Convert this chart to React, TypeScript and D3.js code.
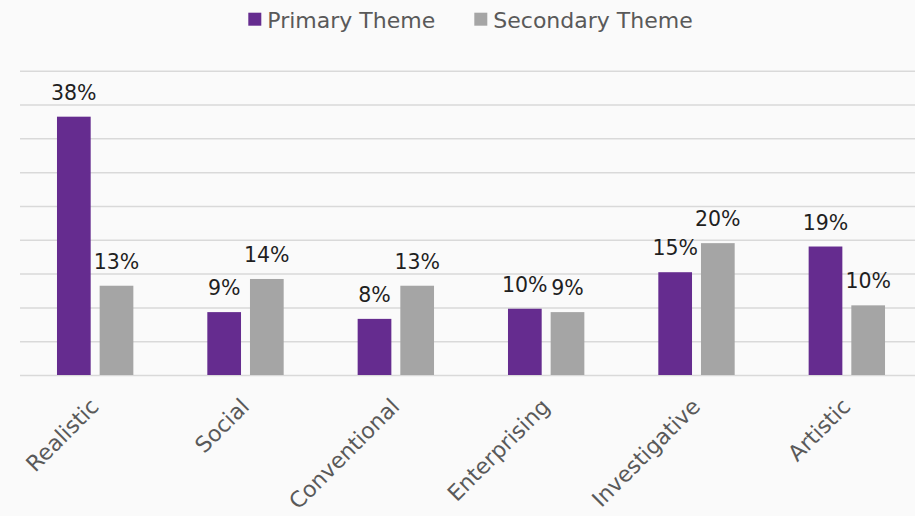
import * as d3 from "d3";
import { useEffect, useRef } from "react";

const categories = ["Realistic", "Social", "Conventional", "Enterprising", "Investigative", "Artistic"];
const seriesNames = ["Primary Theme", "Secondary Theme"];
const primaryValues = [38.2, 9.3, 8.3, 9.8, 15.2, 19.0];
const secondaryValues = [13.2, 14.2, 13.2, 9.3, 19.5, 10.3];
const gridTicks = [0, 5, 10, 15, 20, 25, 30, 35, 40, 45];

const colors = ["#652C8F", "#A5A5A5"];

export default function App() {
    const svgRef = useRef<SVGSVGElement>(null);
    const width = 915;
    const height = 516;
    const plotLeft = 20;
    const plotRight = 922;
    const plotTop = 70.7;
    const plotBottom = 375;
    const font = "'Century Gothic', 'DejaVu Sans', sans-serif";

    useEffect(() => {
        document.body.style.margin = "0";
        if (svgRef.current) {
            drawChart();
        }
    }, [svgRef]);

    const drawChart = () => {
        const svg = d3.select(svgRef.current);
        svg.selectAll("*").remove();

        svg.append("rect").attr("width", width).attr("height", height).attr("fill", "#FAFAFA");

        var scaleX = d3
            .scaleBand()
            .domain(categories)
            .range([plotLeft, plotRight])
            .paddingInner(0.492)
            .paddingOuter(0.246);
        var scaleInner = d3
            .scaleBand()
            .domain(seriesNames)
            .range([0, scaleX.bandwidth()])
            .paddingInner(0.21)
            .paddingOuter(0);
        var scaleY = d3.scaleLinear().domain([0, 45]).range([plotBottom, plotTop]);

        // horizontal grid lines
        svg.append("g")
            .attr("transform", "translate(" + plotLeft + ",0)")
            .attr("color", "#D9D9D9")
            .call(
                d3.axisLeft(scaleY)
                    .tickValues(gridTicks)
                    .tickSize(-(width - plotLeft))
                    .tickFormat(() => "")
            )
            .call((g) => g.select(".domain").remove())
            .selectAll("line")
            .attr("stroke-width", 1.5);

        const series = [primaryValues, secondaryValues];

        series.forEach((values, s) => {
            const name = seriesNames[s];
            const g = svg.append("g");
            g.selectAll("rect")
                .data(values)
                .join("rect")
                .attr("x", (d, i) => scaleX(categories[i])! + scaleInner(name)!)
                .attr("y", (d) => scaleY(d))
                .attr("width", scaleInner.bandwidth())
                .attr("height", (d) => plotBottom - scaleY(d))
                .attr("fill", colors[s]);
            g.selectAll("text")
                .data(values)
                .join("text")
                .attr("x", (d, i) => scaleX(categories[i])! + scaleInner(name)! + scaleInner.bandwidth() / 2)
                .attr("y", (d) => scaleY(d) - 17)
                .attr("text-anchor", "middle")
                .attr("font-family", font)
                .attr("font-size", 20.5)
                .attr("fill", "#1F1F1F")
                .text((d) => Math.round(d) + "%");
        });

        // category labels
        svg.append("g")
            .selectAll("text")
            .data(categories)
            .join("text")
            .attr("transform", (d) => {
                const cx = scaleX(d)! + scaleX.bandwidth() / 2 + 5;
                return "translate(" + cx + ",408) rotate(-45)";
            })
            .attr("text-anchor", "end")
            .attr("font-family", font)
            .attr("font-size", 22)
            .attr("fill", "#595959")
            .text((d) => d);

        // legend
        const legendX = [248.3, 474.3];
        const legend = svg.append("g");
        seriesNames.forEach((name, s) => {
            legend.append("rect")
                .attr("x", legendX[s])
                .attr("y", 12.7)
                .attr("width", 13)
                .attr("height", 13)
                .attr("fill", colors[s]);
            legend.append("text")
                .attr("x", legendX[s] + 19)
                .attr("y", 28)
                .attr("font-family", font)
                .attr("font-size", 22)
                .attr("fill", "#595959")
                .text(name);
        });
    };

    return <svg ref={svgRef} width={width} height={height} style={{ display: "block" }} />;
}
